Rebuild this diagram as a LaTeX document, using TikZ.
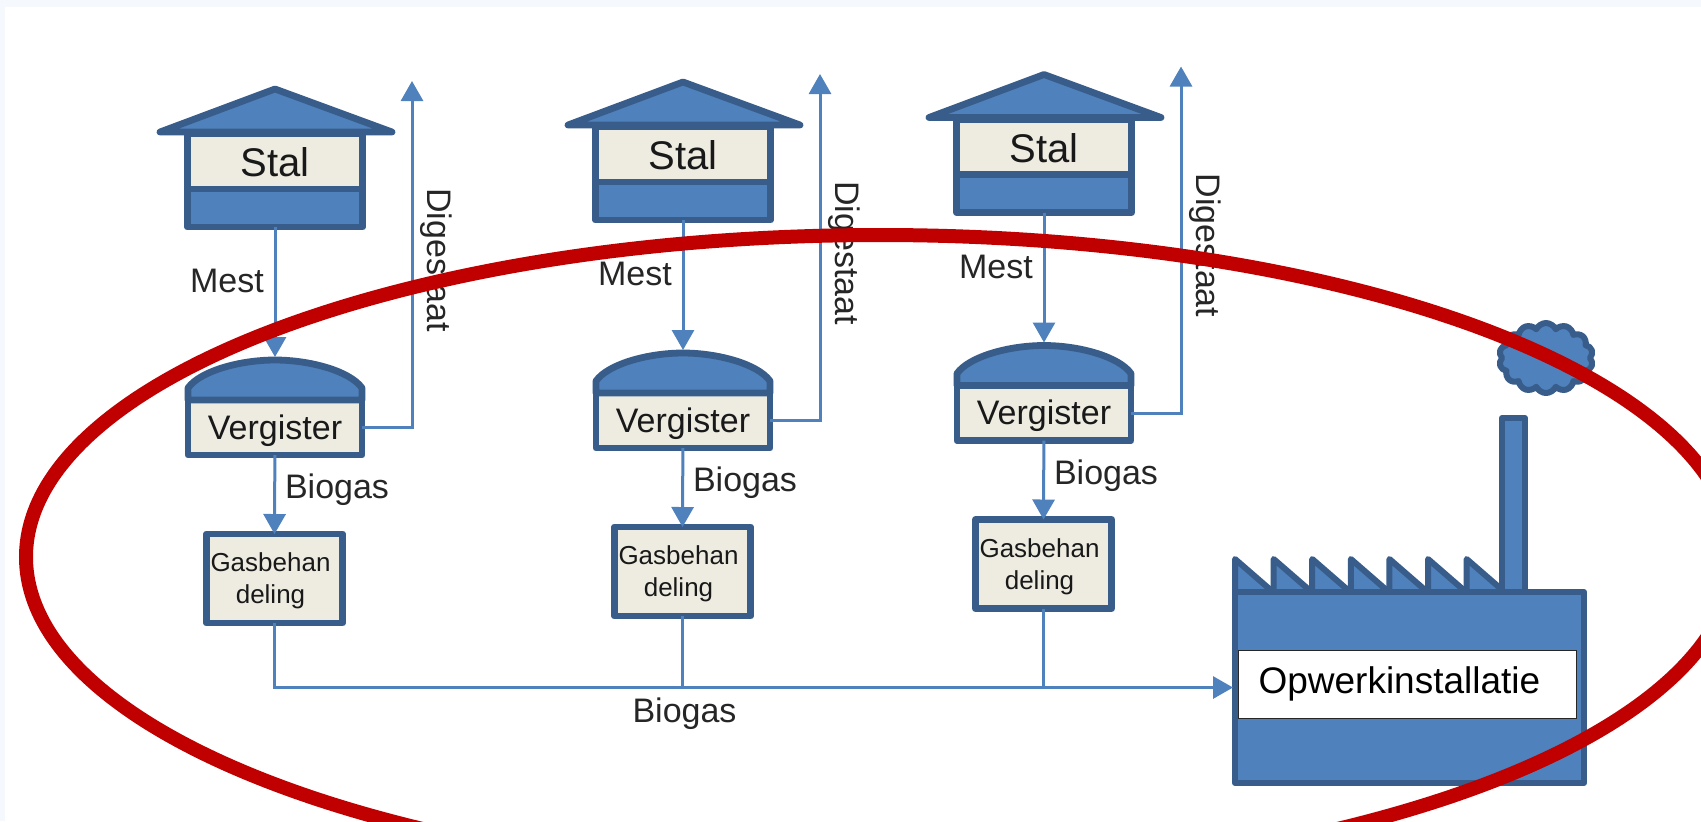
\documentclass[tikz,border=0pt]{standalone}
\usepackage{fontspec}
\setmainfont{Liberation Sans}
\usetikzlibrary{arrows.meta,shapes.symbols}
\definecolor{blockblue}{HTML}{4F81BD}
\definecolor{edgeblue}{HTML}{385D8A}
\definecolor{paper}{HTML}{EEECE1}
\definecolor{ringred}{HTML}{C00000}
\definecolor{pageblue}{HTML}{F5F9FD}
\tikzset{
  solid part/.style={draw=edgeblue,fill=blockblue,line width=3.4pt,line join=round},
  label part/.style={solid part,fill=paper,outer sep=0pt,inner sep=0pt,text=black!90},
  flow/.style={draw=blockblue,line width=1.5pt},
  flowtip/.style={flow,-{Triangle[length=10pt,width=11pt]}},
  tag/.style={font=\fontsize{17}{20}\selectfont,text=black!85,inner sep=0pt},
}
\begin{document}
\begin{tikzpicture}[x=0.5pt,y=-0.5pt]
\useasboundingbox(0,0)rectangle(1701,821);
\fill[pageblue](0,0)rectangle(1701,821);
\fill[white](5,7)rectangle(1701,821);
% three farms
\foreach \i/\dx/\dy in {1/0/0,2/408/-7,3/769/-14.5}{
\begin{scope}[shift={(\dx,\dy)}]
\node[label part,minimum width=87.5pt,minimum height=28.5pt,font=\fontsize{20}{24}\selectfont](stal\i)at(275,162.5){Stal};
\node[solid part,outer sep=0pt,minimum width=87.5pt,minimum height=19pt](stalbase\i)at(275,208){};
\draw[solid part](160,132)--(275,89)--(392,132)--cycle;
\node[label part,minimum width=87pt,minimum height=27.5pt,text height=15pt,text depth=3.5pt,font=\fontsize{17}{20}\selectfont](verg\i)at(275,427.5){Vergister};
\draw[solid part](verg\i.north west)--++(0,-12)..controls(200,371)and(240,360)..(275,360)..controls(310,360)and(350,371)..(362,388)--(verg\i.north east)--cycle;
\coordinate(dome\i)at(275,357);
\node[label part,minimum width=68pt,minimum height=44.5pt,align=center,font=\fontsize{13}{16}\selectfont](gas\i)at(274.5,578.5){\rule{0pt}{12pt}\hspace{-4pt}Gasbehan\\\hspace{-4pt}deling};
\coordinate(out\i)at(412,81);
\draw[flowtip](stalbase\i)--(dome\i);
\draw[flowtip](verg\i.east)-|(out\i);
\draw[flowtip](verg\i)--(gas\i.north);
\node[tag](mest\i)at(227,281){Mest};
\node[tag](biogas\i)at(337,490){Biogas};
\node[tag,rotate=-90](digestaat\i)at(436,260){Digestaat};
\end{scope}
}
% factory
\foreach \t in {0,...,6}{
\draw[solid part,line width=3pt]({1235+38.6*\t},592)--({1235+38.6*\t},559)--({1235+38.6*\t+38},592)--cycle;
}
\draw[solid part,line width=3pt](1502,592)--(1502,418)--(1525,418)--(1525,592)--cycle;
\node[solid part,line width=3pt,outer sep=0pt,minimum width=174.5pt,minimum height=95.5pt](plant)at(1409.5,687.5){};
\node[draw=black!85,fill=white,line width=0.5pt,outer sep=0pt,inner sep=0pt,minimum width=169pt,minimum height=34pt,text=black,font=\fontsize{18.5}{22}\selectfont](box)at(1407,684){\hspace{-7.6pt}Opwerkinstallatie};
\node[cloud,solid part,line width=3pt,cloud puffs=14,cloud puff arc=130,aspect=1.3,inner sep=0pt,minimum width=47pt,minimum height=35pt](smoke)at(1546,358){};
% biogas main
\draw[flowtip,shorten >=1pt](gas1.south)|-(plant.west);
\draw[flow](gas2.south)--(gas2.south|-plant.west);
\draw[flow](gas3.south)--(gas3.south|-plant.west);
\node[tag](biogasmain)at(684.5,714){Biogas};
\draw[ringred,line width=7pt](880,557)ellipse[x radius=854,y radius=322];
\end{tikzpicture}
\end{document}
